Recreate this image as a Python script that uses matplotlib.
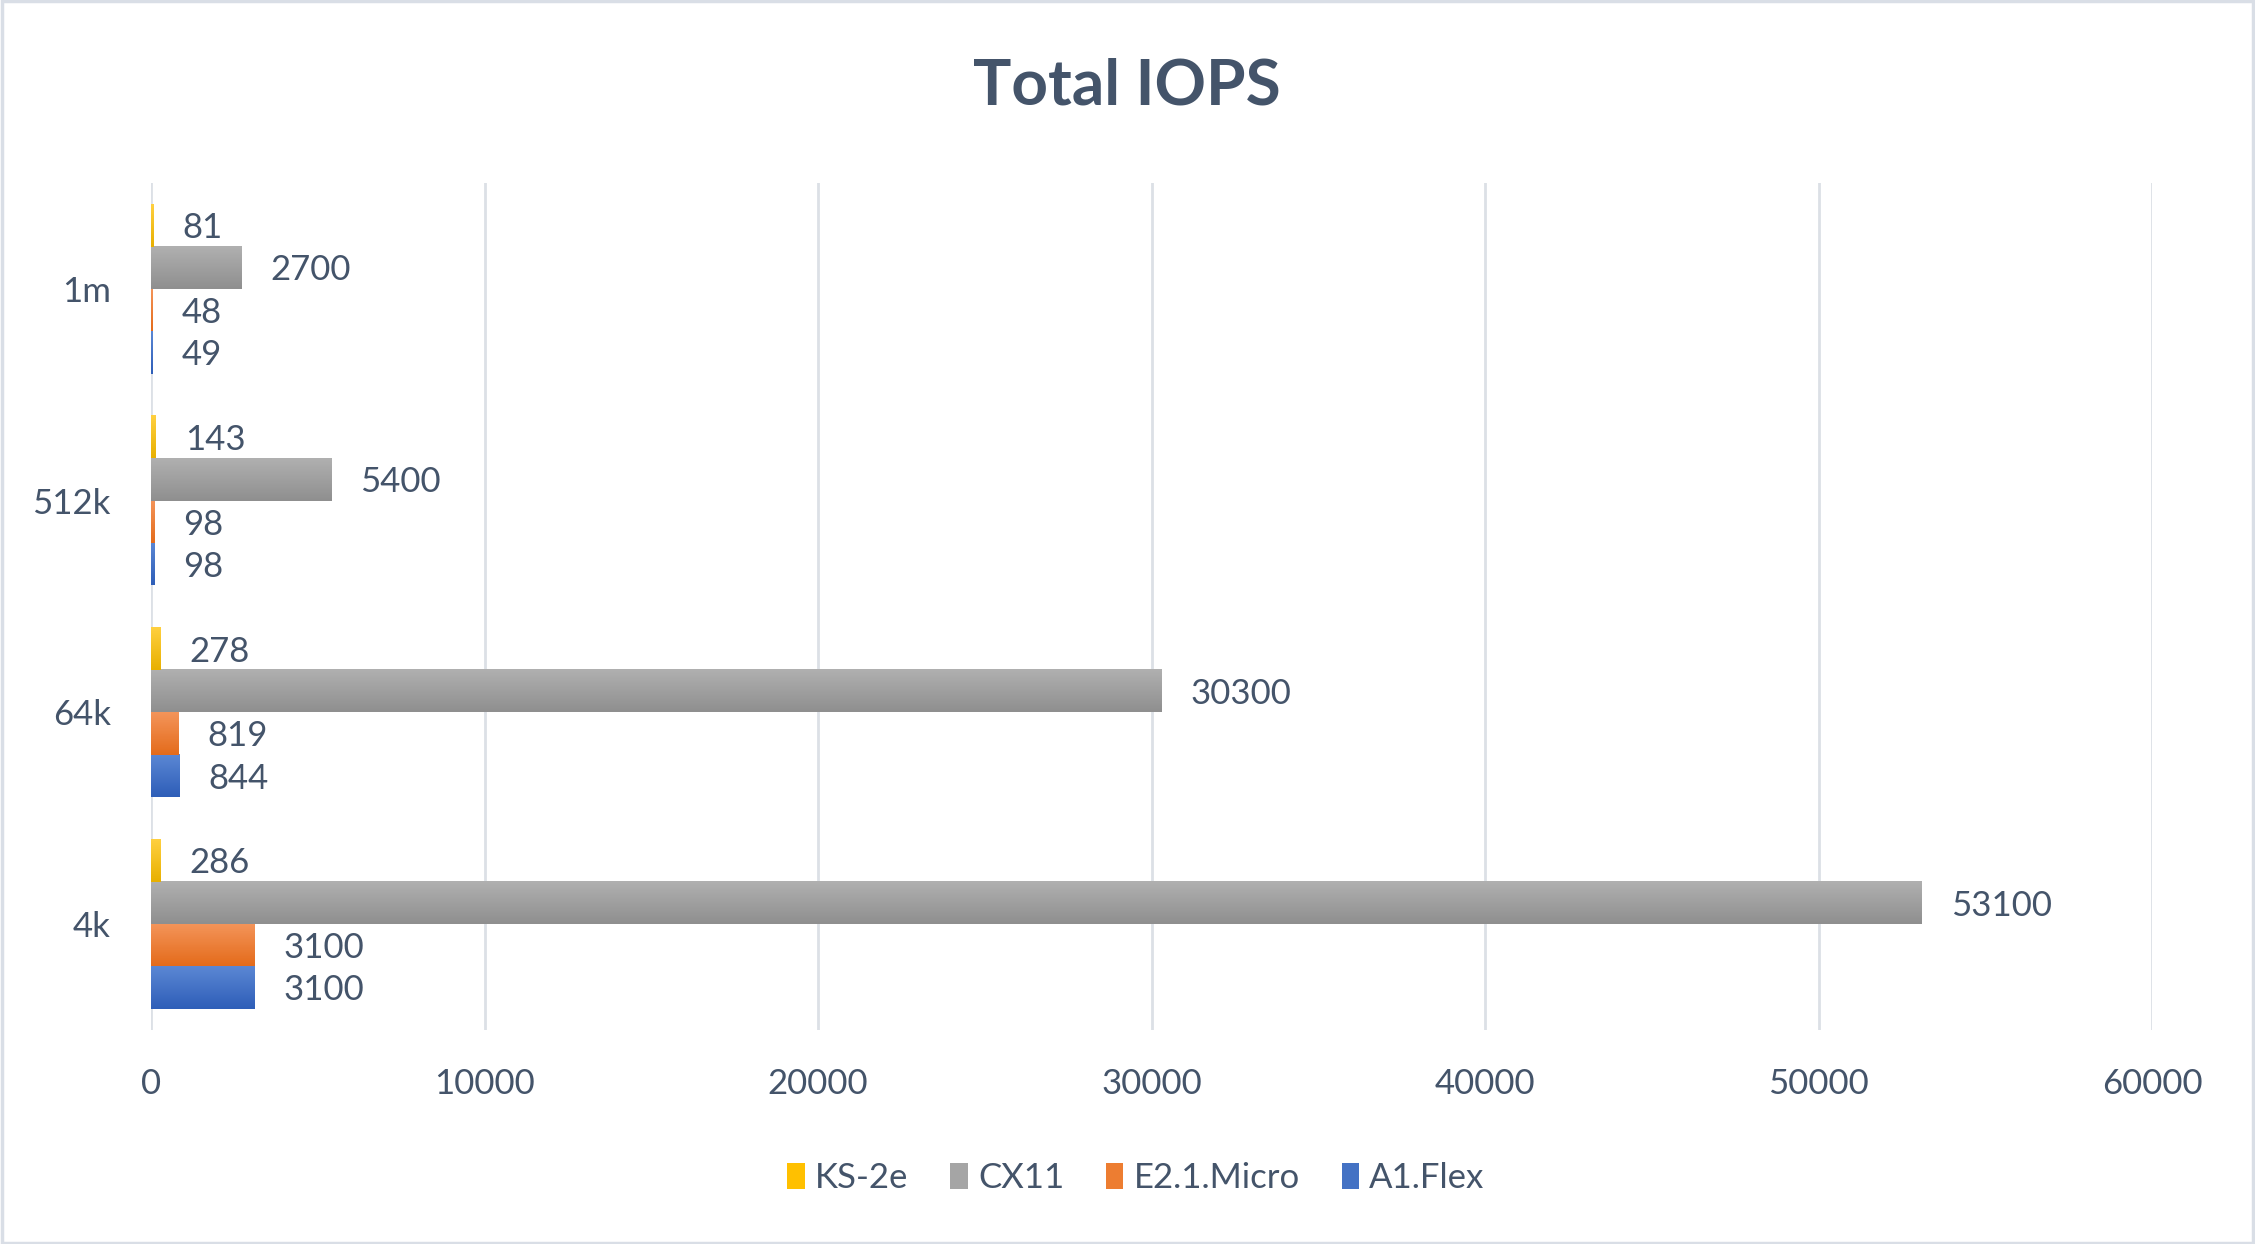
import numpy as np
import matplotlib
matplotlib.use("Agg")
import matplotlib.pyplot as plt
from matplotlib.colors import LinearSegmentedColormap
from matplotlib.patches import Patch, Rectangle

# Data
categories = ["4k", "64k", "512k", "1m"]
series = ["A1.Flex", "E2.1.Micro", "CX11", "KS-2e"]   # bottom -> top inside a group
a1_flex  = [3100, 844, 98, 49]
e2_micro = [3100, 819, 98, 48]
cx11     = [53100, 30300, 5400, 2700]
ks_2e    = [286, 278, 143, 81]
values = [a1_flex, e2_micro, cx11, ks_2e]

# (top colour, bottom colour, legend colour)
colors = [("#5B87D4", "#2E5EB8", "#4472C4"),
          ("#F4955A", "#E46B1B", "#ED7D31"),
          ("#B0B0B0", "#8F8F8F", "#A5A5A5"),
          ("#FFD040", "#E8B000", "#FFC000")]

txt = "#44546A"
grid_c = "#DCE0E6"
plt.rcParams["font.family"] = ["Lato", "DejaVu Sans"]

fig = plt.figure(figsize=(22.55, 12.44), dpi=100)
ax = fig.add_axes([151/2255, 1-1030/1244, (2152-151)/2255, (1030-183)/1244])

y = np.arange(len(categories))
h = 0.2
for i, (vals, (ctop, cbot, cmid)) in enumerate(zip(values, colors)):
    off = (i - 1.5) * h
    bars = ax.barh(y + off, vals, height=h, color=cmid, zorder=2)
    cmap = LinearSegmentedColormap.from_list("g%d" % i, [cbot, ctop])
    grad = np.linspace(0, 1, 64).reshape(-1, 1)
    for b in bars:
        x0, y0 = b.get_x(), b.get_y()
        w, hh = b.get_width(), b.get_height()
        ax.imshow(grad, cmap=cmap, origin="lower", aspect="auto",
                  extent=[x0, x0 + w, y0, y0 + hh], zorder=3)
        ax.annotate(str(b.get_width()), (x0 + w, y0 + hh / 2),
                    xytext=(21, -2), textcoords="offset points",
                    ha="left", va="center", fontsize=25, color=txt, zorder=4)

ax.set_xlim(0, 60000)
ax.set_ylim(-0.5, len(categories) - 0.5)
ax.set_xticks(np.arange(0, 60001, 10000))
ax.set_yticks(y)
ax.set_yticklabels(categories)
ax.tick_params(axis="both", length=0, labelsize=25, labelcolor=txt)
ax.tick_params(axis="y", pad=29)
ax.tick_params(axis="x", pad=27)
ax.grid(axis="x", color=grid_c, linewidth=2.0, zorder=0)
ax.set_axisbelow(True)
for s in ax.spines.values():
    s.set_visible(False)

fig.text(1127/2255, 1-86/1244, "Total IOPS", ha="center", va="center",
         fontsize=46, fontweight="bold", color=txt)

handles = [Patch(facecolor=colors[i][2], edgecolor="none", label=series[i]) for i in [3, 2, 1, 0]]
leg = fig.legend(handles=handles, loc="center", bbox_to_anchor=(1136/2255, 1-1178/1244),
                 ncol=4, frameon=False, fontsize=25, handlelength=0.5, handleheight=0.8,
                 handletextpad=0.3, columnspacing=1.2)
for t in leg.get_texts():
    t.set_color(txt)

fig.patches.append(Rectangle((0.001, 0.001), 0.998, 0.998, transform=fig.transFigure,
                             fill=False, edgecolor="#D9DEE6", linewidth=2.5))

fig.savefig("out.png", dpi=100, facecolor="white")
